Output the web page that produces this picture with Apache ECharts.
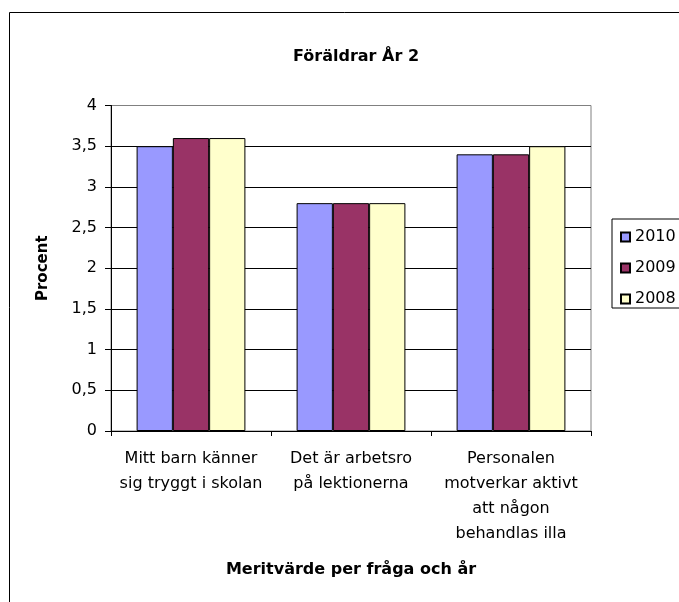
<!DOCTYPE html>
<html>
<head>
<meta charset="utf-8">
<script src="https://cdn.jsdelivr.net/npm/echarts@6/dist/echarts.min.js"></script>
<style>
html,body{margin:0;padding:0;background:#fff;}
#chart{width:679px;height:602px;}
</style>
</head>
<body>
<div id="chart"></div>
<script>
const categories = [
  "Mitt barn känner\nsig tryggt i skolan",
  "Det är arbetsro\npå lektionerna",
  "Personalen\nmotverkar aktivt\natt någon\nbehandlas illa"
];
const seriesNames = ["2010", "2009", "2008"];
const values2010 = [3.5, 2.8, 3.4];
const values2009 = [3.6, 2.8, 3.4];
const values2008 = [3.6, 2.8, 3.5];
const yTicks = { min: 0, max: 4, interval: 0.5 };

const colors = ["#9999FF", "#993366", "#FFFFCC"];
const font = "DejaVu Sans";
const dataSets = [values2010, values2009, values2008];

const chart = echarts.init(document.getElementById("chart"));
chart.setOption({
  animation: false,
  backgroundColor: "#fff",
  textStyle: { fontFamily: font, color: "#000" },
  title: {
    text: "Föräldrar År 2",
    left: 351, textAlign: "center",
    top: 44,
    textStyle: { fontFamily: font, fontSize: 16, fontWeight: "bold", color: "#000" }
  },
  legend: {
    orient: "vertical",
    left: 612, top: 219,
    padding: [10, 40, 1, 8],
    borderColor: "#000", borderWidth: 1,
    itemWidth: 9, itemHeight: 9, itemGap: 15,
    icon: "rect",
    textStyle: { fontFamily: font, fontSize: 16, color: "#000", lineHeight: 16 },
    data: seriesNames
  },
  grid: { left: 111, right: 88, top: 105.5, bottom: 171, containLabel: false, show: true, borderColor: "#808080", borderWidth: 1 },
  xAxis: {
    type: "category",
    data: categories,
    name: "Meritvärde per fråga och år",
    nameLocation: "middle",
    nameGap: 131,
    nameTextStyle: { fontFamily: font, fontSize: 16, fontWeight: "bold", color: "#000" },
    axisLine: { lineStyle: { color: "#000", width: 1 } },
    axisTick: { show: true, length: 5, lineStyle: { color: "#000" } },
    axisLabel: { interval: 0, margin: 15, fontFamily: font, fontSize: 16, lineHeight: 25, color: "#000", align: "center" },
    splitLine: { show: false }
  },
  yAxis: {
    type: "value",
    min: yTicks.min, max: yTicks.max, interval: yTicks.interval,
    name: "Procent",
    nameLocation: "middle",
    nameRotate: 90,
    nameGap: 60,
    nameTextStyle: { fontFamily: font, fontSize: 15, fontWeight: "bold", color: "#000" },
    axisLine: { show: true, lineStyle: { color: "#000", width: 1 } },
    axisTick: { show: true, length: 6, lineStyle: { color: "#000" } },
    axisLabel: { margin: 14, fontFamily: font, fontSize: 16, color: "#000",
      formatter: v => String(v).replace(".", ",") },
    splitLine: { show: true, lineStyle: { color: ["#000", "#000", "#000", "#000", "#000", "#000", "#000", "#000", "#808080"], width: 1 } }
  },
  series: seriesNames.map((n, i) => ({
    name: n,
    type: "bar",
    data: dataSets[i],
    barGap: "0%",
    barCategoryGap: "32%",
    itemStyle: { color: colors[i], borderColor: "#000", borderWidth: 1 }
  })),
  graphic: [{
    type: "rect",
    shape: { x: 9.5, y: 12.5, width: 1000, height: 1000 },
    style: { fill: null, stroke: "#000", lineWidth: 1 },
    silent: true, z: -1
  }]
});
</script>
</body>
</html>
